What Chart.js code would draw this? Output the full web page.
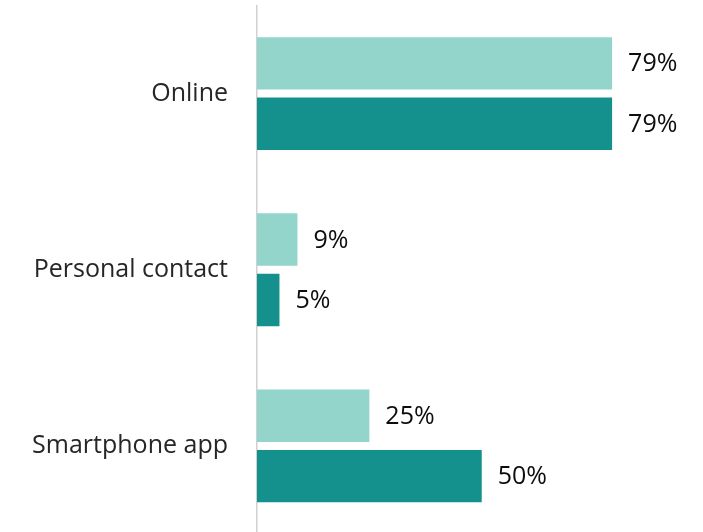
<!DOCTYPE html>
<html>
<head>
<meta charset="utf-8">
<script src="https://cdn.jsdelivr.net/npm/chart.js@4/dist/chart.umd.min.js"></script>
<style>
  html, body { margin: 0; padding: 0; background: #fff; overflow: hidden; }
  #chart { display: block; }
</style>
</head>
<body>
<canvas id="chart" width="703" height="534"></canvas>
<script>
const categories = ['Online', 'Personal contact', 'Smartphone app'];
const lightValues = [79, 9, 25];
const darkValues = [79, 5, 50];

const lightColor = '#93d4cb';
const darkColor = '#15918d';

// percent labels just past the end of each bar
const valueLabels = {
    id: 'valueLabels',
    afterDatasetsDraw(chart) {
        const ctx = chart.ctx;
        ctx.save();
        ctx.font = '25px "Open Sans", sans-serif';
        ctx.fillStyle = '#0d0d0d';
        ctx.textAlign = 'left';
        ctx.textBaseline = 'middle';
        chart.data.datasets.forEach((ds, i) => {
            chart.getDatasetMeta(i).data.forEach((bar, j) => {
                ctx.fillText(ds.data[j] + '%', bar.x + 16, bar.y + 1);
            });
        });
        ctx.restore();
    }
};

new Chart(document.getElementById('chart'), {
    type: 'bar',
    data: {
        labels: categories,
        datasets: [
            { label: 'Series A', data: lightValues, backgroundColor: lightColor },
            { label: 'Series B', data: darkValues, backgroundColor: darkColor }
        ]
    },
    options: {
        indexAxis: 'y',
        responsive: false,
        animation: false,
        categoryPercentage: 0.686,
        barPercentage: 0.868,
        layout: { padding: { top: 5.5, right: 1, bottom: 0, left: 0 } },
        plugins: {
            legend: { display: false },
            tooltip: { enabled: false }
        },
        scales: {
            x: { display: false, min: 0, max: 99 },
            y: {
                afterFit(scale) {
                    // fixed label column, no extra room above/below the bars
                    scale.width = 257;
                    scale.paddingTop = 0;
                    scale.paddingBottom = 0;
                },
                grid: { display: false, drawTicks: false },
                border: { display: true, color: '#d0d0d0', width: 1.5 },
                ticks: {
                    padding: 29,
                    color: '#262626',
                    font: { family: '"Open Sans", sans-serif', size: 25 }
                }
            }
        }
    },
    plugins: [valueLabels]
});
</script>
</body>
</html>
